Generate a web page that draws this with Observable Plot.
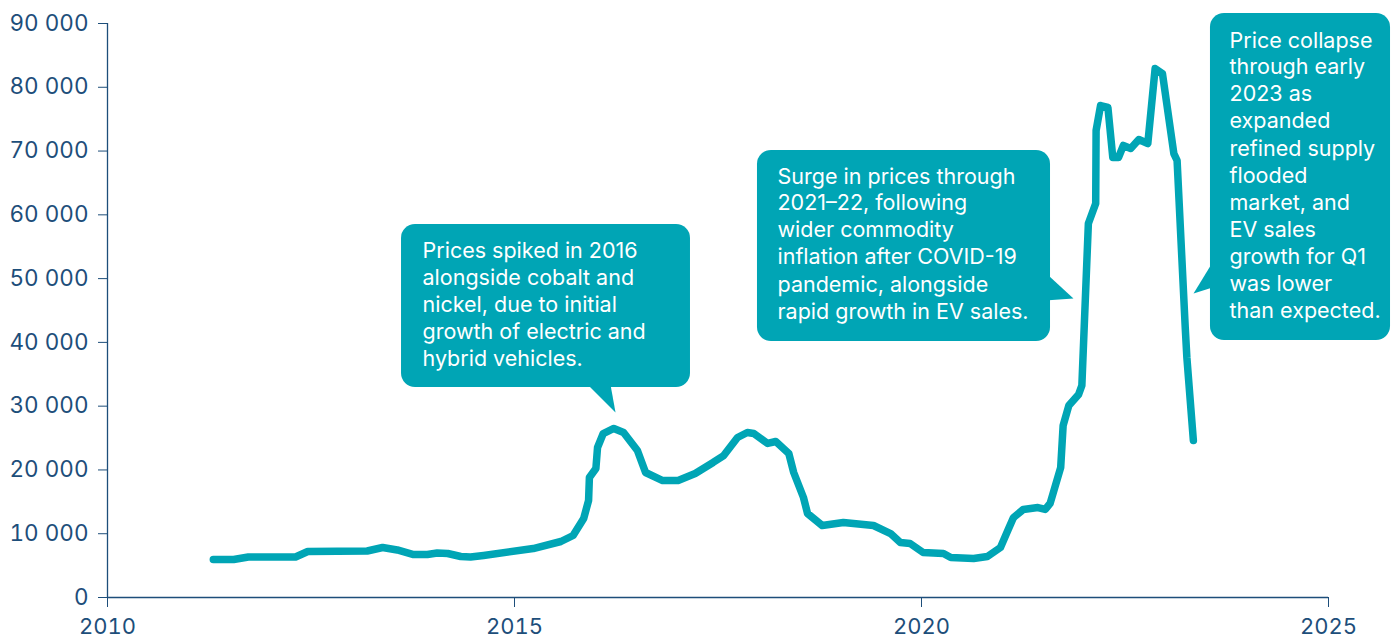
<!DOCTYPE html>
<html>
<head>
<meta charset="utf-8">
<script src="https://cdn.jsdelivr.net/npm/d3@7"></script>
<script src="https://cdn.jsdelivr.net/npm/@observablehq/plot@0.6"></script>
<style>
  html, body { margin: 0; padding: 0; background: #fff; }
  #chart svg { display: block; }
</style>
</head>
<body>
<div id="chart"></div>
<script>
// ---- Data (decimal year, price) ----
const years = [
  2011.30, 2011.55, 2011.73, 2012.31, 2012.46, 2013.19, 2013.38, 2013.56, 2013.76, 2013.93,
  2014.05, 2014.18, 2014.34, 2014.46, 2014.62, 2015.23, 2015.57, 2015.72, 2015.85, 2015.91,
  2015.92, 2016.00, 2016.02, 2016.09, 2016.22, 2016.34, 2016.51, 2016.61, 2016.82, 2017.01,
  2017.22, 2017.44, 2017.57, 2017.74, 2017.86, 2017.94, 2018.11, 2018.21, 2018.37, 2018.43,
  2018.55, 2018.60, 2018.78, 2019.04, 2019.41, 2019.62, 2019.74, 2019.86, 2020.02, 2020.27,
  2020.36, 2020.64, 2020.81, 2020.97, 2021.06, 2021.13, 2021.25, 2021.43, 2021.52, 2021.58,
  2021.71, 2021.74, 2021.81, 2021.93, 2021.97, 2022.05, 2022.14, 2022.145, 2022.20, 2022.29,
  2022.35, 2022.42, 2022.48, 2022.57, 2022.67, 2022.78, 2022.87, 2022.96, 2023.10, 2023.14,
  2023.24, 2023.26, 2023.34
];
const prices = [
  5960, 5960, 6350, 6350, 7210, 7290, 7840, 7450, 6740, 6740,
  6980, 6900, 6430, 6350, 6590, 7680, 8780, 9720, 12390, 15210,
  18810, 20230, 23520, 25710, 26500, 25870, 23050, 19600, 18340, 18340,
  19440, 21170, 22260, 25090, 25870, 25710, 24150, 24460, 22580, 19600,
  15680, 13170, 11290, 11760, 11290, 10030, 8620, 8470, 7060, 6900,
  6270, 6110, 6430, 7840, 10500, 12540, 13800, 14110, 13800, 14740,
  20380, 26970, 30100, 31830, 33240, 58640, 61770, 73220, 77140, 76830,
  68990, 68990, 70870, 70400, 71810, 71180, 82940, 82160, 69610, 68520,
  42330, 37630, 24620
];

// ---- Axis ticks ----
const xTicks = [2010, 2015, 2020, 2025];
const yTicks = [0, 10000, 20000, 30000, 40000, 50000, 60000, 70000, 80000, 90000];

// ---- Annotation texts ----
const calloutTexts = [
  "Prices spiked in 2016\nalongside cobalt and\nnickel, due to initial\ngrowth of electric and\nhybrid vehicles.",
  "Surge in prices through\n2021–22, following\nwider commodity\ninflation after COVID-19\npandemic, alongside\nrapid growth in EV sales.",
  "Price collapse\nthrough early\n2023 as\nexpanded\nrefined supply\nflooded\nmarket, and\nEV sales\ngrowth for Q1\nwas lower\nthan expected."
];
// anchors in data units (year, price)
const calloutBoxX1 = [2013.612, 2017.985, 2023.550];
const calloutBoxX2 = [2017.162, 2021.585, 2025.762];
const calloutBoxY1 = [32926, 40138, 40295];
const calloutBoxY2 = [58483, 70085, 91565];
const calloutTextX = [2013.870, 2018.231, 2023.784];
const calloutTextY = [56163, 67921, 89245];
const calloutTails = [
  [[2015.897, 33400], [2016.241, 29006], [2016.179, 33400]],
  [[2021.560, 50486], [2021.867, 46880], [2021.560, 46600]],
  [[2023.575, 52525], [2023.342, 47664], [2023.575, 48605]]
];

const data = years.map((x, i) => ({x, y: prices[i]}));
const boxes = calloutTexts.map((t, i) => ({
  x1: calloutBoxX1[i], x2: calloutBoxX2[i], y1: calloutBoxY1[i], y2: calloutBoxY2[i],
  tx: calloutTextX[i], ty: calloutTextY[i], text: t
}));
const tails = calloutTails.flatMap((pts, k) => pts.map(([x, y]) => ({k, x, y})));

const axisColor = "#1d4e7a";
const teal = "#00a5b5";
const fmt = d => d3.format(",")(d).replace(/,/g, " ");

const chart = Plot.plot({
  width: 1391,
  height: 638,
  marginLeft: 107,
  marginRight: 63,
  marginTop: 23,
  marginBottom: 41,
  style: {fontFamily: "Inter, 'Noto Sans', sans-serif", fontSize: "22px", color: axisColor, background: "#fff", overflow: "visible"},
  x: {domain: [2010, 2025], ticks: xTicks, tickFormat: "d", label: null, tickSize: 10, tickPadding: 11},
  y: {domain: [0, 90000], ticks: yTicks, tickFormat: fmt, label: null, tickSize: 9, tickPadding: 10},
  marks: [
    Plot.axisX({ticks: xTicks, tickFormat: "d", label: null, tickSize: 10, tickPadding: 11, stroke: axisColor, fill: axisColor, fontSize: 22}),
    Plot.axisY({ticks: yTicks, tickFormat: fmt, label: null, tickSize: 9, tickPadding: 10, stroke: axisColor, fill: axisColor, fontSize: 22.5}),
    Plot.ruleY([0], {stroke: axisColor, strokeWidth: 1.3}),
    Plot.ruleX([2010], {stroke: axisColor, strokeWidth: 1.3}),
    Plot.line(data, {x: "x", y: "y", stroke: teal, strokeWidth: 7.5, strokeLinejoin: "round", strokeLinecap: "round"}),
    Plot.rect(boxes, {x1: "x1", x2: "x2", y1: "y1", y2: "y2", fill: teal, rx: 14}),
    Plot.line(tails, {x: "x", y: "y", z: "k", fill: teal, stroke: null}),
    Plot.text(boxes, {x: "tx", y: "ty", text: "text", fill: "#fff", textAnchor: "start", lineAnchor: "top", lineHeight: 1.256, fontSize: 21.5, fontFamily: "Inter, 'Noto Sans', sans-serif"})
  ]
});
document.getElementById("chart").appendChild(chart);
</script>
</body>
</html>
